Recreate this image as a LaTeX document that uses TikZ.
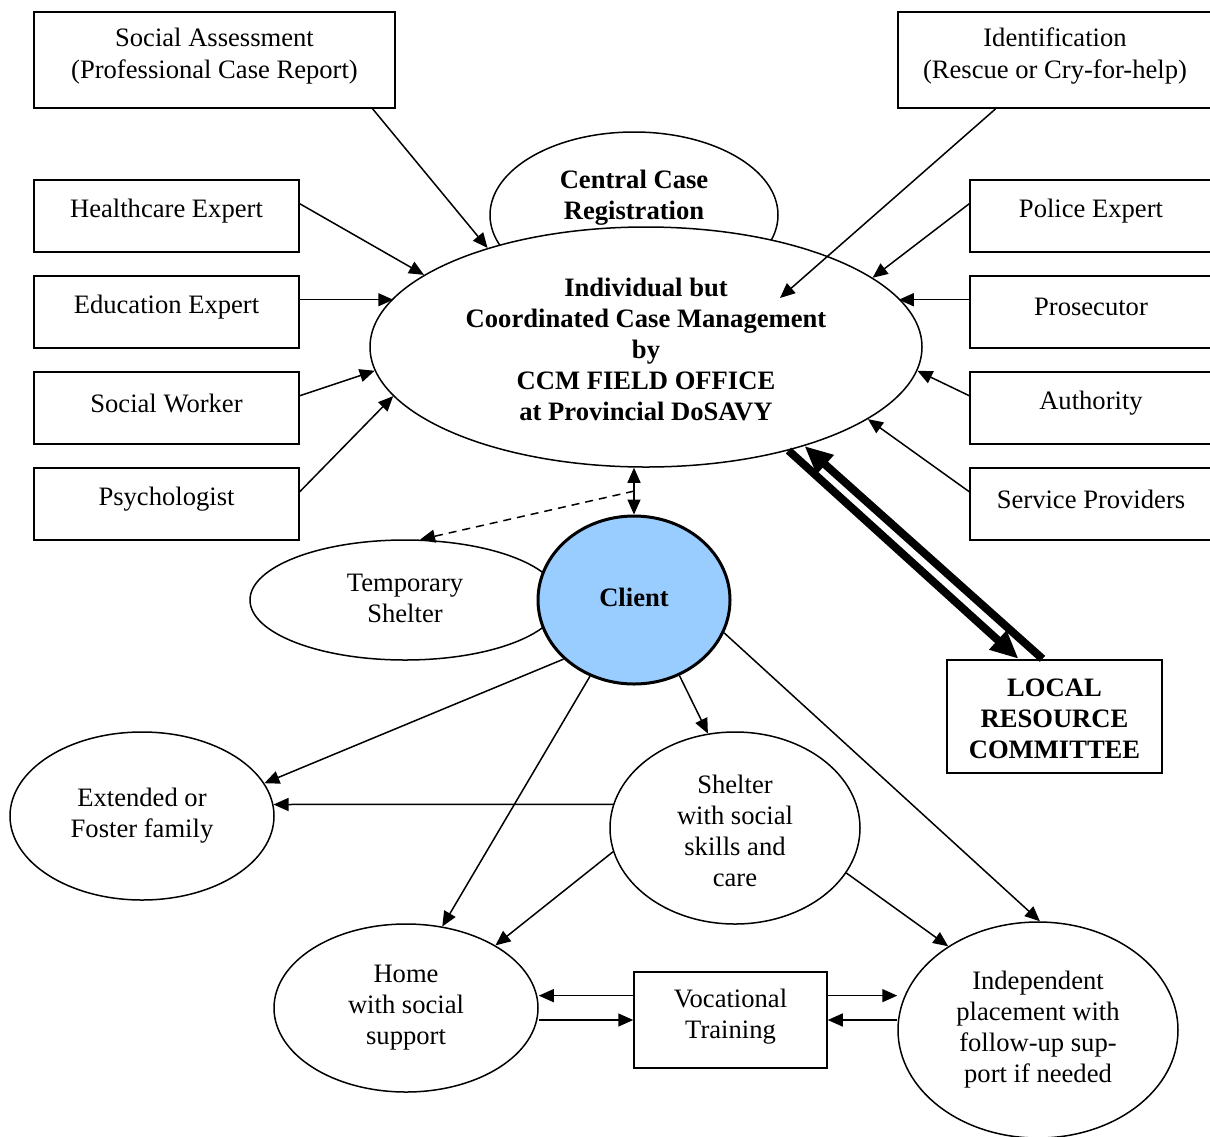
\documentclass[tikz,border=0pt]{standalone}
\usepackage{fontspec}
\setmainfont{Liberation Serif}
\usetikzlibrary{shapes.geometric,arrows.meta,calc}
\definecolor{clientblue}{HTML}{99CCFF}
\begin{document}
\begin{tikzpicture}[x=0.5pt,y=-0.5pt,
  every node/.style={font=\fontsize{13.3}{15.5}\selectfont, align=center, inner sep=0pt},
  bold/.style={font=\fontsize{13.3}{15.5}\selectfont\bfseries},
  box/.style={draw, line width=0.75pt, rectangle},
  ell/.style={draw, ellipse, line width=0.75pt, fill=white},
  arr/.style={-{Triangle[length=7.5pt,width=6.5pt]}, line width=0.75pt},
  darr/.style={{Triangle[length=7.5pt,width=6.5pt]}-{Triangle[length=7.5pt,width=6.5pt]}, line width=0.75pt},
  heavyarr/.style={-{Triangle[length=14pt,width=12pt]}, line width=4pt},
]
\useasboundingbox (0,0) rectangle (1210,1136);

% top boxes
\node[box, minimum width=180.5pt, minimum height=48pt] (sa) at (214.5,60) {};
\node[font=\fontsize{13.3}{16}\selectfont] at ($(sa.center)+(0,-4)$) {Social Assessment\\(Professional Case Report)};
\node[box, minimum width=157pt, minimum height=48pt] (idf) at (1055,60) {};
\node[font=\fontsize{13.3}{16}\selectfont] at ($(idf.center)+(0,-4)$) {Identification\\(Rescue or Cry-for-help)};

% left boxes
\node[box, minimum width=132.5pt, minimum height=36pt] (hc) at (166.5,216) {};
\node at ($(hc.center)+(0,-5)$) {Healthcare Expert};
\node[box, minimum width=132.5pt, minimum height=36pt] (ed) at (166.5,312) {};
\node at ($(ed.center)+(0,-5)$) {Education Expert};
\node[box, minimum width=132.5pt, minimum height=36pt] (sw) at (166.5,408) {};
\node at ($(sw.center)+(0,-5)$) {Social Worker};
\node[box, minimum width=132.5pt, minimum height=36pt] (ps) at (166.5,504) {};
\node at ($(ps.center)+(0,-5)$) {Psychologist};

% right boxes
\node[box, minimum width=121pt, minimum height=36pt] (po) at (1091,216) {};
\node at ($(po.center)+(0,-5)$) {Police Expert};
\node[box, minimum width=121pt, minimum height=36pt] (pr) at (1091,312) {};
\node at ($(pr.center)+(0,-5)$) {Prosecutor};
\node[box, minimum width=121pt, minimum height=36pt] (au) at (1091,408) {};
\node at ($(au.center)+(0,-5)$) {Authority};
\node[box, minimum width=121pt, minimum height=36pt] (sp) at (1091,504) {};
\node at ($(sp.center)+(0,-5)$) {Service Providers};

% central registration and main ellipse
\node[ell, minimum width=144pt, minimum height=83pt] (ccr) at (634,215) {};
\node[bold] at (634,198) {Central Case\\Registration};
\node[ell, minimum width=276pt, minimum height=120pt] (main) at (646,347) {};
\node[bold] at (646,349)
  {Individual but\\Coordinated Case Management\\by\\CCM FIELD OFFICE\\at Provincial DoSAVY};

% temporary shelter and client
\node[ell, minimum width=155pt, minimum height=60pt] (temp) at (405,600) {};
\node at (405,598) {Temporary\\Shelter};
\node[ell, fill=clientblue, line width=1.5pt, minimum width=96pt, minimum height=84pt] (client) at (634,600) {};
\node[bold] at (634,597) {Client};

% local resource committee
\node[box, line width=1.2pt, minimum width=107.5pt, minimum height=56.5pt] (lrc) at (1054.5,716.5) {};
\node[bold] at (1054.5,718.5) {LOCAL\\RESOURCE\\COMMITTEE};

% lower ellipses
\node[ell, minimum width=132pt, minimum height=84pt] (ext) at (142,816) {Extended or\\Foster family};
\node[ell, minimum width=125pt, minimum height=96pt] (shel) at (735,828) {};
\node at (735,831) {Shelter\\with social\\skills and\\care};
\node[ell, minimum width=132pt, minimum height=84pt] (home) at (406,1008) {Home\\with social\\support};
\node[ell, minimum width=140pt, minimum height=108pt] (indep) at (1038,1030) {Independent\\placement with\\follow-up sup-\\port if needed};
\node[box, minimum width=96.5pt, minimum height=48pt] (voc) at (730.5,1020) {};
\node at ($(voc.center)+(0,-3)$) {Vocational\\Training};

% arrows into main ellipse from left
\coordinate (edA) at ($(ed.north east)!0.333!(ed.south east)$);
\coordinate (edB) at ($(edA -| main.west)+(24,0)$);
\draw[arr] ($(sa.south west)!0.936!(sa.south east)$) -- (main.148);
\draw[arr] ($(hc.north east)!0.333!(hc.south east)$) -- (main.162);
\draw[arr] (edA) -- (edB);
\draw[arr] ($(sw.north east)!0.333!(sw.south east)$) -- (main.185.6);
\draw[arr] ($(ps.north east)!0.333!(ps.south east)$) -- (main.191.4);

% arrows into main ellipse from right
\coordinate (idend) at (780,298);
\coordinate (prA) at ($(pr.north west)!0.333!(pr.south west)$);
\coordinate (prB) at ($(prA -| main.east)+(-24,0)$);
\draw[arr] ($(idf.south west)!0.312!(idf.south east)$) -- (idend);
\draw[arr] ($(po.north west)!0.333!(po.south west)$) -- (main.17.6);
\draw[arr] (prA) -- (prB);
\draw[arr] ($(au.north west)!0.333!(au.south west)$) -- (main.-5.6);
\draw[arr] ($(sp.north west)!0.333!(sp.south west)$) -- (main.-18.1);

% heavy arrows to committee
\coordinate (l1) at ($(lrc.north)+(-36,0)$);
\coordinate (l2) at ($(lrc.north)+(-12,0)$);
\draw[heavyarr] (main.-36.2) -- (l1);
\draw[heavyarr] (l2) -- (main.-32);

% main <-> client, dashed to temporary shelter
\coordinate (mtop) at (client.north |- main.south);
\coordinate (mid) at ($(client.north)!0.5!(mtop)$);
\draw[darr] (mtop) -- (client.north);
\draw[arr, dash pattern=on 4pt off 3pt] (mid) -- (temp.76);

% client outgoing
\draw[arr] (client.220.6) -- (ext.15.8);
\draw[arr] (client.240.8) -- (home.66.6);
\draw[arr] (client.-59.7) -- (shel.106.8);
\draw[arr] (client.-20.6) -- (indep.89);

% shelter outgoing
\draw[arr] (shel.169) -- (ext.5.1);
\draw[arr] (shel.191) -- (home.35.8);
\draw[arr] (shel.-22.7) -- (indep.137.6);

% vocational training
\coordinate (vA) at ($(voc.north west)!0.25!(voc.south west)$);
\coordinate (vB) at ($(voc.north east)!0.25!(voc.south east)$);
\draw[arr] (vA) -- (vA -| home.east);
\draw[arr] (voc.west -| home.east) -- (voc.west);
\draw[arr] (vB) -- (vB -| indep.west);
\draw[arr] (voc.east -| indep.west) -- (voc.east);
\end{tikzpicture}
\end{document}
